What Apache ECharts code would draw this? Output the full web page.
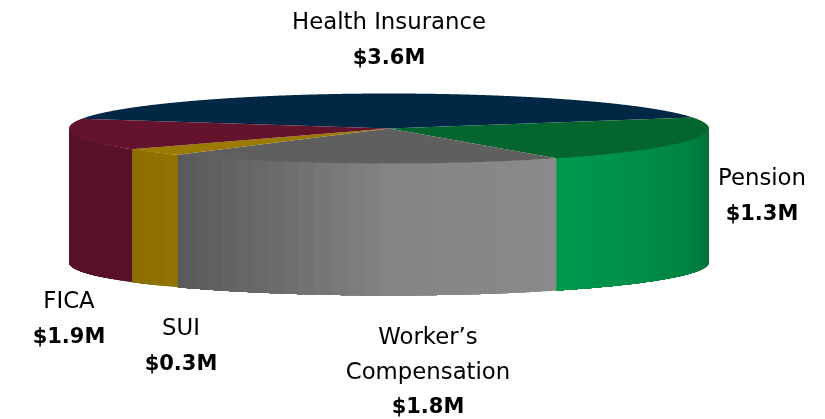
<!DOCTYPE html>
<html>
<head>
<meta charset="utf-8">
<style>
  html, body { margin: 0; padding: 0; background: #fff; }
  #chart { width: 825px; height: 419px; }
</style>
<script src="https://cdn.jsdelivr.net/npm/echarts@6/dist/echarts.min.js"></script>
</head>
<body>
<div id="chart"></div>
<script>
// slice order, clockwise from the back left of the disc
const categories = ['Health Insurance', 'Pension', 'Worker’s\nCompensation', 'SUI', 'FICA']
// printed labels
const valueLabels = ['$3.6M', '$1.3M', '$1.8M', '$0.3M', '$1.9M']
// size of each slice as drawn ($M). The picture draws the Pension slice at the
// FICA size and the other way round, so these do not follow the labels there
const sliceValues = [3.6, 1.9, 1.8, 0.3, 1.3]

// looks, not data
const topColors = ['#002845', '#05652f', '#5f5f5f', '#9a7b00', '#63142c']
// wall shading as [angle, colour] stops
const wallStops = [
  [[0, '#002845'], [360, '#002845']],
  [[0, '#006c35'], [20, '#008241'], [45, '#00924a'], [60, '#009a4c']],
  [[58, '#8a8a8a'], [90, '#848484'], [110, '#6c6c6c'], [132, '#585858']],
  [[131, '#917400'], [144, '#8a6d00']],
  [[143, '#571028'], [180, '#571028']]
]
const labelSpots = [[389, 41], [762, 197], [428, 373], [181, 347], [69, 320]]

const cx = 389, cy = 128.5, rx = 320, ry = 35, depth = 134, bottomRy = 33
const startAngle = 196
const bandStep = 3
const arcStep = 0.25

const total = sliceValues.reduce((a, b) => a + b, 0)
const topRim = deg => [
  cx + rx * Math.cos(deg * Math.PI / 180),
  cy + ry * Math.sin(deg * Math.PI / 180)
]
const bottomRim = deg => [
  cx + rx * Math.cos(deg * Math.PI / 180),
  cy + depth + bottomRy * Math.sin(deg * Math.PI / 180)
]

const mix = (stops, a) => {
  const hex = c => [1, 3, 5].map(i => parseInt(c.substr(i, 2), 16))
  let i = 0
  while (i < stops.length - 2 && a > stops[i + 1][0]) i++
  const [a0, c0] = stops[i], [a1, c1] = stops[i + 1]
  const t = Math.min(1, Math.max(0, (a - a0) / (a1 - a0)))
  const p = hex(c0), q = hex(c1)
  return 'rgb(' + p.map((v, k) => Math.round(v + (q[k] - v) * t)).join(',') + ')'
}

const renderSlice = (params, api) => {
  const i = api.value(1)
  const before = sliceValues.slice(0, i).reduce((a, b) => a + b, 0)
  const a0 = startAngle + before / total * 360
  const a1 = a0 + api.value(0) / total * 360
  const children = []

  // front wall, only the part between 0 and 180 degrees faces the viewer.
  // each band runs on to the end of the slice so the next one paints over it, no seams
  ;[0, 360].forEach(turn => {
    const from = Math.max(a0 - turn, 0), to = Math.min(a1 - turn, 180)
    for (let a = from; a < to; a += bandStep) {
      const pts = []
      for (let d = a; d < to; d += arcStep) pts.push(topRim(d))
      pts.push(topRim(to))
      for (let d = to; d > a; d -= arcStep) pts.push(bottomRim(d))
      pts.push(bottomRim(a))
      children.push({
        type: 'polygon',
        shape: { points: pts },
        style: { fill: mix(wallStops[i], a + bandStep / 2) }
      })
    }
  })

  // top face
  const top = [[cx, cy]]
  for (let d = a0; d < a1; d += arcStep) top.push(topRim(d))
  top.push(topRim(a1))
  children.push({ type: 'polygon', z2: 5, shape: { points: top }, style: { fill: topColors[i] } })

  children.push({
    type: 'text', z2: 10,
    x: labelSpots[i][0], y: labelSpots[i][1],
    style: {
      text: categories[i].split('\n').map(s => '{name|' + s + '}').join('\n') + '\n{val|' + valueLabels[i] + '}',
      align: 'center', verticalAlign: 'middle',
      rich: {
        name: { fontFamily: 'DejaVu Sans', fontSize: 22.8, lineHeight: 35, fill: '#000', align: 'center' },
        val: { fontFamily: 'DejaVu Sans', fontSize: 21, fontWeight: 'bold', lineHeight: 35, fill: '#000', align: 'center' }
      }
    }
  })
  return { type: 'group', children }
}

const chart = echarts.init(document.getElementById('chart'), null, { renderer: 'canvas' })
chart.setOption({
  animation: false,
  backgroundColor: '#fff',
  series: [{
    type: 'custom',
    coordinateSystem: 'none',
    renderItem: renderSlice,
    data: sliceValues.map((v, i) => [v, i])
  }]
})
</script>
</body>
</html>
